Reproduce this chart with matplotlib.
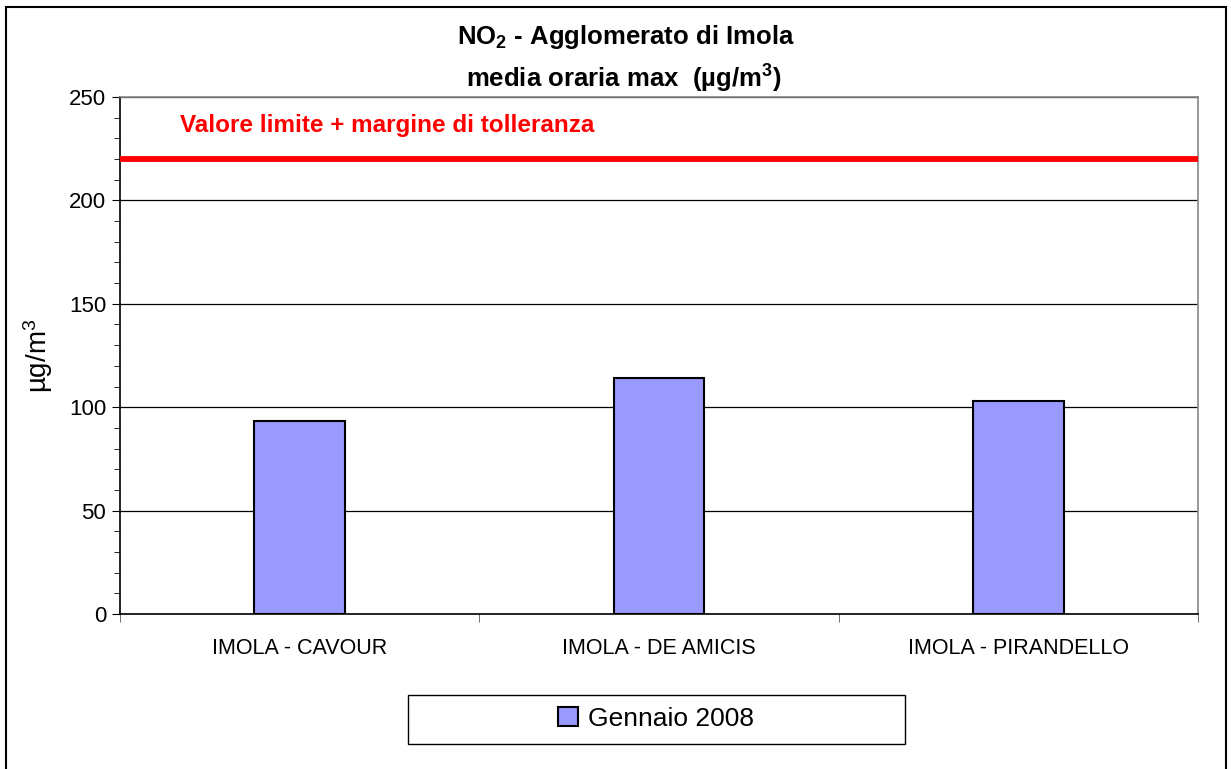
import matplotlib
matplotlib.use("Agg")
import matplotlib.pyplot as plt
from matplotlib.patches import Rectangle
from matplotlib.ticker import MultipleLocator

plt.rcParams['font.family'] = ['Liberation Sans', 'DejaVu Sans']
plt.rcParams['mathtext.fontset'] = 'custom'
plt.rcParams['mathtext.rm'] = 'Liberation Sans'
plt.rcParams['mathtext.it'] = 'Liberation Sans'
plt.rcParams['mathtext.bf'] = 'Liberation Sans:bold'

categories = ["IMOLA - CAVOUR", "IMOLA - DE AMICIS", "IMOLA - PIRANDELLO"]
values = [93.3, 114.0, 103.0]
series_label = "Gennaio 2008"
limit_value = 220
limit_label = "Valore limite + margine di tolleranza"
yticks = [0, 50, 100, 150, 200, 250]

W, H = 1231, 769
fig = plt.figure(figsize=(W/100, H/100), dpi=100)
fig.patch.set_facecolor('white')
fig.patches.append(Rectangle((6/W, -0.01), 1220/W, 1 - 7/H + 0.01,
                             transform=fig.transFigure, fill=False,
                             edgecolor='black', linewidth=1.5))

ax = fig.add_axes([120/W, (H-614)/H, (1198-120)/W, (614-97)/H])
x = list(range(len(categories)))
ax.bar(x, values, width=0.253, color='#9999FF', edgecolor='black',
       linewidth=1.5, zorder=3, label=series_label)
ax.set_xlim(-0.5, len(categories) - 0.5)
ax.set_ylim(0, 250)
ax.set_yticks(yticks)
ax.yaxis.set_minor_locator(MultipleLocator(10))
ax.grid(axis='y', which='major', color='black', linewidth=0.9, zorder=1)
ax.axhline(limit_value, color='#FF0000', linewidth=4.2, zorder=4)
ax.text(0.056, 0.944, limit_label, transform=ax.transAxes, color='#FF0000',
        fontsize=17.5, fontweight='bold', va='center', ha='left')

ax.set_xticks(x)
ax.set_xticklabels(categories, fontsize=15.5)
ax.set_xticks([-0.5, 0.5, 1.5, 2.5], minor=True)
ax.tick_params(axis='x', which='major', length=0, pad=17)
ax.tick_params(axis='x', which='minor', length=6, direction='out', color='#555555')
ax.tick_params(axis='y', which='major', length=6, direction='out', labelsize=16, pad=4)
ax.tick_params(axis='y', which='minor', length=4, direction='out')

for s in ['top', 'right']:
    ax.spines[s].set_color('#888888')
    ax.spines[s].set_linewidth(1.2)
for s in ['left', 'bottom']:
    ax.spines[s].set_color('black')
    ax.spines[s].set_linewidth(1.2)

ax.set_ylabel("µg/m$^3$", fontsize=20, labelpad=10)

fig.text(626/W, 1 - 37/H, r"NO$_\mathbf{2}$ - Agglomerato di Imola", ha='center', va='center',
         fontsize=18.5, fontweight='bold')
fig.text(624/W, 1 - 79/H, r"media oraria max  (µg/m$^\mathbf{3}$)", ha='center', va='center',
         fontsize=18.5, fontweight='bold')

# legend frame box as in reference
fig.patches.append(Rectangle((408/W, 1 - 744/H), (905-408)/W, (744-695)/H,
                             transform=fig.transFigure, fill=True, facecolor='white',
                             edgecolor='black', linewidth=1.0))
leg = fig.legend(loc='center', bbox_to_anchor=(656/W, 1 - 719/H), ncol=1,
                 fontsize=19, frameon=False,
                 handlelength=0.75, handleheight=0.75, borderpad=0.3,
                 handletextpad=0.35)
fig.savefig("out.png", dpi=100)
